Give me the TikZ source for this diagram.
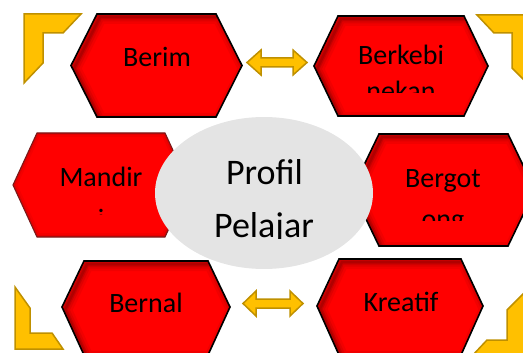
\documentclass[tikz,border=0pt]{standalone}
\usepackage{fontspec}
\setmainfont{Carlito}
\definecolor{hexred}{HTML}{FF0000}
\definecolor{shadowred}{HTML}{7A0000}
\definecolor{softedge}{HTML}{7A1A1A}
\definecolor{gold}{HTML}{FFC000}
\definecolor{golddark}{HTML}{BF9000}
\definecolor{ellgray}{HTML}{E4E4E4}
\newcommand{\redhex}[6]{%
  \def\hp{(#1,#6) -- ({#1+#5},#3) -- ({#2-#5},#3) -- (#2,#6) -- ({#2-#5},#4) -- ({#1+#5},#4) -- cycle}%
  \fill[hexred] \hp;
  \begin{scope}
    \clip \hp;
    \foreach \w/\o in {14/0.10,9/0.15,5/0.22,2.5/0.3} {\draw[shadowred, line width=\w pt, opacity=\o, shift={(3,3)}] \hp;}
  \end{scope}
  \draw[black, line width=1.6pt, line join=miter] \hp;
}
\newcommand{\softhex}[6]{%
  \def\hp{(#1,#6) -- ({#1+#5},#3) -- ({#2-#5},#3) -- (#2,#6) -- ({#2-#5},#4) -- ({#1+#5},#4) -- cycle}%
  \fill[hexred] \hp;
  \begin{scope}
    \clip \hp;
    \foreach \w/\o in {8/0.08,4/0.12} {\draw[shadowred, line width=\w pt, opacity=\o] \hp;}
  \end{scope}
  \draw[softedge, line width=1.1pt, line join=miter] \hp;
}
\tikzset{
  hextext/.style={anchor=base, font=\fontsize{28}{34}\selectfont, inner sep=0pt, text=black},
  bigtext/.style={anchor=base, font=\fontsize{36}{43}\selectfont, inner sep=0pt, text=black},
  goldshape/.style={fill=gold, draw=golddark, line width=1.5pt, line join=miter},
}
\begin{document}
\begin{tikzpicture}[x=1pt,y=-1pt]
\useasboundingbox (0,0) rectangle (523,353);
\clip (0,0) rectangle (523,353);

% corner chevrons
\fill[goldshape] (24,14) -- (81,14) -- (63,33) -- (43,33) -- (43,63) -- (24,83) -- cycle;
\fill[goldshape] (477,15) -- (535,15) -- (535,91) -- (512,68) -- (512,33) -- (494,33) -- cycle;
\fill[goldshape] (15,287) -- (30,308) -- (30,333) -- (52,333) -- (63,349) -- (15,349) -- cycle;
\fill[goldshape] (472,356) -- (487,340) -- (507,340) -- (507,310) -- (530,287) -- (530,356) -- cycle;

% double arrows
\fill[goldshape] (247,62.5) -- (261,50) -- (261,58) -- (293,58) -- (293,50) -- (307,62.5) -- (293,75) -- (293,67) -- (261,67) -- (261,75) -- cycle;
\fill[goldshape] (243,303.5) -- (256,291) -- (256,299) -- (290,299) -- (290,291) -- (303,303.5) -- (290,316) -- (290,308) -- (256,308) -- (256,316) -- cycle;

% hexagons
\redhex{71}{242}{14}{117}{26}{65.5}
\redhex{314}{488}{16}{116}{24}{66}
\softhex{13}{189}{133}{237}{24}{185}
\redhex{352}{535}{134}{246}{27}{190}
\redhex{62}{230}{261}{355}{22}{307}
\redhex{317}{483}{259}{355}{22}{306}

% centre ellipse
\fill[ellgray] (264,193) ellipse [x radius=109, y radius=76];

% texts
\node[hextext] (berim) at (157,67) {Berim};
\node[hextext] (berkebi) at (401,65) {Berkebi};
\begin{scope}
  \clip (300,80) rectangle (500,93);
  \node[hextext] (nekan) at (401,101) {nekan};
\end{scope}
\node[hextext] (mandir) at (101,186) {Mandir};
\begin{scope}
  \clip (60,195) rectangle (140,214);
  \node[hextext] (mandiri) at (101,228) {i};
\end{scope}
\node[hextext] (bergot) at (443,187) {Bergot};
\begin{scope}
  \clip (380,200) rectangle (510,220);
  \node[hextext] (ong) at (443,228) {ong};
\end{scope}
\node[hextext] (bernal) at (146,312) {Bernal};
\node[hextext] (kreatif) at (401,311) {Kreatif};
\node[bigtext] (profil) at (264.5,185) {Profil};
\begin{scope}
  \clip (150,190) rectangle (380,238);
  \node[bigtext] (pelajar) at (264,237) {Pelajar};
\end{scope}
\end{tikzpicture}
\end{document}
